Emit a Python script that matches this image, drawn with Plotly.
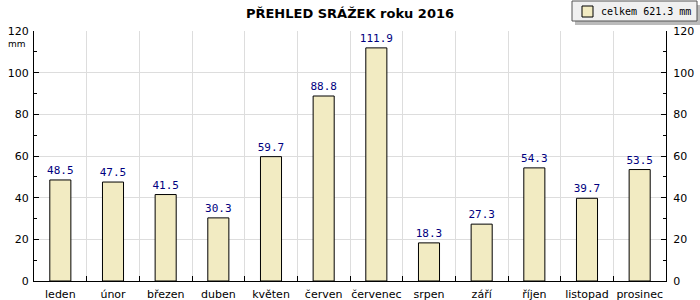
import plotly.graph_objects as go

months = ["leden", "únor", "březen", "duben", "květen", "červen", "červenec",
          "srpen", "září", "říjen", "listopad", "prosinec"]
values = [48.5, 47.5, 41.5, 30.3, 59.7, 88.8, 111.9, 18.3, 27.3, 54.3, 39.7, 53.5]
total_label = "celkem 621.3 mm"
title_text = "PŘEHLED SRÁŽEK roku 2016"
y_ticks = [0, 20, 40, 60, 80, 100, 120]

W, H = 700, 300
L, R, T, B = 34, 34, 31, 19
BAR_COLOR = "#F2EBC2"

fig = go.Figure()
fig.add_trace(go.Bar(
    x=months, y=values, width=0.4, name=total_label,
    marker=dict(color=BAR_COLOR, line=dict(color="#000000", width=1)),
    text=[f"{v:.1f}" for v in values], textposition="outside",
    textangle=0, constraintext="none",
    textfont=dict(family="DejaVu Sans Mono", size=11, color="#000080"),
    cliponaxis=False, showlegend=False,
))
fig.add_trace(go.Scatter(x=months, y=values, yaxis="y2", mode="markers",
                         marker=dict(opacity=0), showlegend=False, hoverinfo="skip"))

axis_font = dict(family="DejaVu Sans", size=11, color="#000000")
fig.update_layout(
    width=W, height=H,
    margin=dict(l=L, r=R, t=T, b=B, autoexpand=False),
    paper_bgcolor="white", plot_bgcolor="white",
    title=dict(text="<b>" + title_text + "</b>", x=0.5, xanchor="center",
               y=1 - 13 / H, yanchor="middle",
               font=dict(family="DejaVu Sans", size=13, color="#000000")),
    showlegend=False,
    xaxis=dict(type="category", tickson="boundaries", ticks="inside", ticklen=5,
               tickcolor="#000000", showgrid=True, gridcolor="#DDDDDD", gridwidth=1,
               showline=True, linecolor="#000000", linewidth=1, tickangle=0,
               automargin=False, tickfont=axis_font, ticklabelstandoff=3,
               range=[-0.5, 11.5]),
    yaxis=dict(range=[0, 120], tickvals=y_ticks, ticks="inside", ticklen=5,
               tickcolor="#000000", showgrid=True, gridcolor="#DDDDDD",
               showline=True, linecolor="#000000", linewidth=1, zeroline=False,
               automargin=False, tickfont=axis_font, ticklabelstandoff=2,
               minor=dict(dtick=10, ticks="inside", ticklen=3, tickcolor="#000000",
                          showgrid=False)),
    yaxis2=dict(range=[0, 120], tickvals=y_ticks, overlaying="y", side="right",
                ticks="inside", ticklen=5, tickcolor="#000000", showgrid=False,
                showline=True, linecolor="#000000", linewidth=1, zeroline=False,
                automargin=False, tickfont=axis_font, ticklabelstandoff=4,
                minor=dict(dtick=10, ticks="inside", ticklen=3, tickcolor="#000000")),
)

fig.add_annotation(text="mm", xref="paper", yref="paper",
                   x=-6 / (W - L - R), xanchor="right",
                   y=1 - 13 / (H - T - B), yanchor="middle",
                   showarrow=False, font=dict(family="DejaVu Sans", size=9, color="#000000"))

def px(xp):
    return (xp - L) / (W - L - R)

def py(yp):
    return (H - B - yp) / (H - T - B)

lx0, lx1, ly0, ly1 = 572, 697, 1, 21
fig.add_shape(type="rect", xref="paper", yref="paper",
              x0=px(lx0 + 3), x1=px(lx1 + 3), y0=py(ly1 + 4), y1=py(ly0 + 4),
              fillcolor="#BBBBBB", line=dict(width=0), layer="above")
fig.add_shape(type="rect", xref="paper", yref="paper",
              x0=px(lx0), x1=px(lx1), y0=py(ly1), y1=py(ly0),
              fillcolor="#F0F0F0", line=dict(color="#555555", width=1), layer="above")
fig.add_shape(type="rect", xref="paper", yref="paper",
              x0=px(582), x1=px(593), y0=py(17), y1=py(6),
              fillcolor=BAR_COLOR, line=dict(color="#000000", width=1), layer="above")
fig.add_annotation(text=total_label, xref="paper", yref="paper",
                   x=px(599), xanchor="left", y=py(11.5), yanchor="middle",
                   showarrow=False,
                   font=dict(family="DejaVu Sans Mono", size=10, color="#000000"))

fig.write_html("out.html")
